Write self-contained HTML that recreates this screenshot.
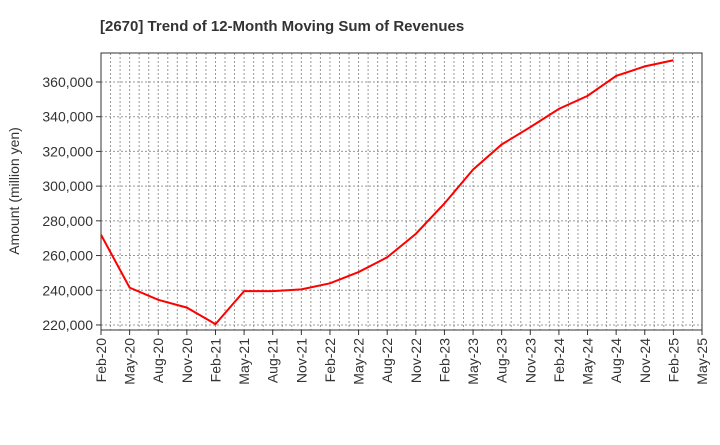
<!DOCTYPE html>
<html><head><meta charset="utf-8"><style>
body{margin:0;background:#fff;font-family:"Liberation Sans",sans-serif;}
svg text{font-family:"Liberation Sans",sans-serif;}
</style></head><body>
<svg id="chart" width="720" height="440" xmlns="http://www.w3.org/2000/svg">
<text x="100" y="31" font-size="15" font-weight="bold" fill="#333">[2670]  Trend of 12-Month Moving Sum of Revenues</text>
<text transform="translate(19,191) rotate(-90)" text-anchor="middle" font-size="14" fill="#333">Amount (million yen)</text>
<g id="grid"></g><g id="axes"></g><g id="series"></g>
</svg>
<script>
const categories=["Feb-20","May-20","Aug-20","Nov-20","Feb-21","May-21","Aug-21","Nov-21","Feb-22","May-22","Aug-22","Nov-22","Feb-23","May-23","Aug-23","Nov-23","Feb-24","May-24","Aug-24","Nov-24","Feb-25","May-25"];
const revenues=[272000,241500,234500,230000,220500,239500,239500,240500,244000,250500,259000,272500,290000,309500,324000,334000,344500,352000,363500,369000,372500];
const yTicks=[220000,240000,260000,280000,300000,320000,340000,360000];
const L=101,R=702,T=53,B=330,yMin=217100,yMax=376700;
const nMonths=(categories.length-1)*3;
const x=i=>L+(R-L)*i/(categories.length-1);
const xm=m=>L+(R-L)*m/nMonths;
const y=v=>B-(B-T)*(v-yMin)/(yMax-yMin);
const NS="http://www.w3.org/2000/svg";
function mk(p,tag,at){const e=document.createElementNS(NS,tag);for(const k in at)e.setAttribute(k,at[k]);document.getElementById(p).appendChild(e);return e;}
for(let m=1;m<nMonths;m++){
 const l=mk("grid","line",{x1:xm(m),x2:xm(m),y1:T,y2:B,stroke:"#999","stroke-dasharray":"2,2","stroke-width":1});
 
 
}
yTicks.forEach(v=>{
 const l=mk("grid","line",{x1:L,x2:R,y1:y(v),y2:y(v),stroke:"#999","stroke-dasharray":"2,2","stroke-width":1});
 
 
 const tk=mk("axes","line",{x1:L-5,x2:L,y1:y(v),y2:y(v),stroke:"#333"});
 
 
 const t=mk("axes","text",{x:L-8,y:y(v)+5,"text-anchor":"end","font-size":"14",fill:"#333"});
 t.textContent=v.toLocaleString("en-US");
 
 
});
const frame=mk("axes","rect",{x:L,y:T,width:R-L,height:B-T,fill:"none",stroke:"#333","stroke-width":1});


categories.forEach((c,i)=>{
 const tk=mk("axes","line",{x1:x(i),x2:x(i),y1:B,y2:B+5,stroke:"#333"});
 
 
 const t=mk("axes","text",{transform:`translate(${x(i)+5},${B+8}) rotate(-90)`,"text-anchor":"end","font-size":"14",fill:"#333"});
 t.textContent=c;
 
 
});
const line=mk("series","polyline",{points:revenues.map((v,i)=>x(i)+","+y(v)).join(" "),fill:"none",stroke:"#f00","stroke-width":2});


</script>
</body></html>
